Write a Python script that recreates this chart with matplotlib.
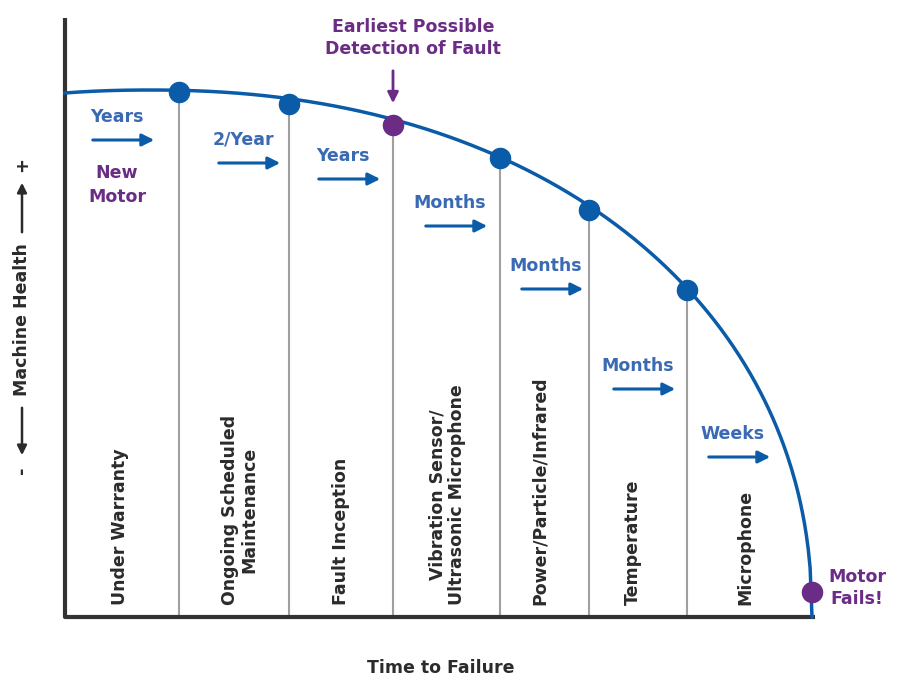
import numpy as np
import matplotlib.pyplot as plt

# data (pixel-space diagram)
stage_x = [179, 289, 393, 500, 589, 687]
stage_y = [92, 104, 125, 158, 210, 290]
stage_colors = ['#0a5ca8', '#0a5ca8', '#6b2c86', '#0a5ca8', '#0a5ca8', '#0a5ca8']
fail_pt = (812, 592)
stage_labels = ['Under Warranty', 'Ongoing Scheduled\nMaintenance', 'Fault Inception',
                'Vibration Sensor/\nUltrasonic Microphone', 'Power/Particle/Infrared',
                'Temperature', 'Microphone']
label_x = [120, 240, 341, 447, 540, 633, 745]
intervals = ['Years', '2/Year', 'Years', 'Months', 'Months', 'Months', 'Weeks']
int_x = [117, 243, 343, 450, 546, 638, 733]
int_y = [117, 140, 156, 203, 266, 366, 434]

BLUE = '#0a5ca8'; TBLUE = '#3a6ab4'; PURPLE = '#6b2c86'; DARK = '#2b2b2b'

fig = plt.figure(figsize=(9, 6.9), dpi=100)
ax = fig.add_axes([0, 0, 1, 1])
ax.set_xlim(0, 900); ax.set_ylim(690, 0); ax.axis('off')

ax.plot([65, 65, 815], [18, 617, 617], color='#333333', lw=3, solid_capstyle='butt')

# health curve (superellipse shape)
cx, cy, a, b, p = 150, 617, 662, 527, 2.15
xs = np.linspace(65, 812, 400)
u = np.abs(xs - cx) / a
ys = cy - b * np.clip(1 - u**p, 0, None)**(1/p)
ax.plot(xs, ys, color=BLUE, lw=2.5, zorder=2)

for x, y, c in zip(stage_x, stage_y, stage_colors):
    ax.plot([x, x], [y, 617], color='#a0a0a0', lw=1.5, zorder=1)
    ax.scatter([x], [y], s=210, color=c, zorder=3)
ax.scatter([fail_pt[0]], [fail_pt[1]], s=210, color=PURPLE, zorder=3)

for lx, t in zip(label_x, stage_labels):
    ax.text(lx, 605, t, rotation=90, ha='center', va='bottom', fontsize=12.5,
            fontweight='bold', color=DARK, linespacing=1.1)

for tx, ty, t in zip(int_x, int_y, intervals):
    ax.text(tx, ty, t, ha='center', va='center', fontsize=12.5, fontweight='bold', color=TBLUE)
    ax.annotate('', xy=(tx + 40, ty + 23), xytext=(tx - 27, ty + 23),
                arrowprops=dict(arrowstyle='-|>', color=BLUE, lw=2.2, mutation_scale=18))

ax.text(117, 185, 'New\nMotor', ha='center', va='center', fontsize=12.5,
        fontweight='bold', color=PURPLE, linespacing=1.4)
ax.text(413, 38, 'Earliest Possible\nDetection of Fault', ha='center', va='center',
        fontsize=12.5, fontweight='bold', color=PURPLE, linespacing=1.3)
ax.annotate('', xy=(393, 106), xytext=(393, 68),
            arrowprops=dict(arrowstyle='-|>', color=PURPLE, lw=2, mutation_scale=16))
ax.text(857, 588, 'Motor\nFails!', ha='center', va='center', fontsize=12.5,
        fontweight='bold', color=PURPLE, linespacing=1.3)

ax.text(22, 320, 'Machine Health', rotation=90, ha='center', va='center',
        fontsize=12.5, fontweight='bold', color=DARK)
ax.annotate('', xy=(22, 180), xytext=(22, 235),
            arrowprops=dict(arrowstyle='-|>', color=DARK, lw=1.8, mutation_scale=14))
ax.annotate('', xy=(22, 458), xytext=(22, 405),
            arrowprops=dict(arrowstyle='-|>', color=DARK, lw=1.8, mutation_scale=14))
ax.text(22, 165, '+', rotation=90, ha='center', va='center', fontsize=13, fontweight='bold', color=DARK)
ax.text(22, 470, '-', rotation=90, ha='center', va='center', fontsize=13, fontweight='bold', color=DARK)

ax.text(441, 668, 'Time to Failure', ha='center', va='center', fontsize=12.5,
        fontweight='bold', color=DARK)

fig.savefig('out.png', dpi=100)
